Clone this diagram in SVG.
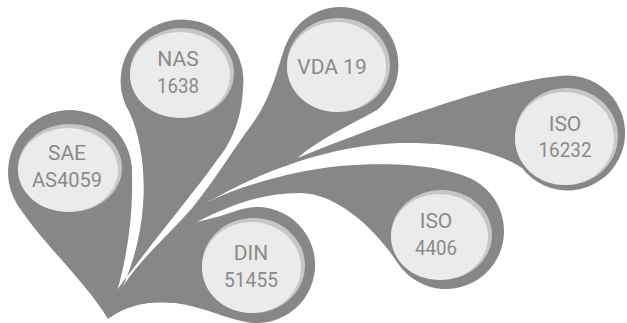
<svg xmlns="http://www.w3.org/2000/svg" width="627" height="323" viewBox="0 0 627 323">
<style>
.g{fill:#878787}
.c{fill:#c6c6c6}
.l{fill:#ebebeb}
.t{font-family:Roboto,"Liberation Sans",sans-serif;font-size:21px;fill:#8a8a8a;text-anchor:middle}
</style>
<rect width="627" height="323" fill="#ffffff"/>
<g id="connectors">
<path id="hub" class="g" d="M108 319 C120 275 160 245 193 207 L205 199 L210 201 L197 222 L230 285 L175 303 C150 300 125 305 108 319 Z"/>
</g>
<g id="sae">
<path class="g" d="M132 174 C133 215 128 265 108 319 C88 285 45 245 21 210 A62 62 0 1 1 132 174 Z"/>
<ellipse class="c" cx="70" cy="168" rx="52" ry="44"/>
<ellipse class="l" cx="68" cy="170" rx="50" ry="42"/>
<text class="t" x="67" y="160">SAE</text>
<text class="t" x="67" y="187" textLength="70" lengthAdjust="spacingAndGlyphs">AS4059</text>
</g>
<g id="nas">
<path class="g" d="M126 106 A61.4 61.4 0 1 1 243 88 C242 120 230 145 217 160 C200 185 150 245 117 290 C112 298 109 310 108 319 C125 285 140 250 143 205 C146 170 140 130 126 106 Z"/>
<ellipse class="c" cx="182" cy="73" rx="52" ry="45"/>
<ellipse class="l" cx="180" cy="75" rx="50" ry="43"/>
<text class="t" x="178" y="66">NAS</text>
<text class="t" x="178" y="93" textLength="42" lengthAdjust="spacingAndGlyphs">1638</text>
</g>
<g id="vda">
<path class="g" d="M287.4 41.5 A58 58 0 1 1 377 110 C350 125 318 140 297.5 157.9 C265 168.5 235 182.5 210 197 L200 210 L193 207 C215 180 237 144 250 127 C275 95 280 55 287.4 41.5 Z"/>
<ellipse class="c" cx="338.5" cy="65" rx="51.5" ry="47"/>
<ellipse class="l" cx="336.5" cy="67" rx="49.5" ry="45"/>
<text class="t" x="332" y="74">VDA 19</text>
</g>
<g id="iso16232">
<path class="g" d="M568 75.5 C520 77 430 105 297.5 157.9 L240 170 L205 199 L210 201 C260 172 330 145 400 143 C450 142 495 150 522 168 A57.5 57.5 0 1 0 568 75.5 Z"/>
<ellipse class="c" cx="566.5" cy="136.5" rx="51.5" ry="48.5"/>
<ellipse class="l" cx="564.5" cy="138.5" rx="49.5" ry="46.5"/>
<text class="t" x="565" y="131">ISO</text>
<text class="t" x="565" y="157" textLength="53" lengthAdjust="spacingAndGlyphs">16232</text>
</g>
<g id="iso4406">
<path class="g" d="M475 180.8 C450 167 400 161 340 166 C290 171 238 187 210 201 L198 211 L197 222 C230 205 262 193 300 193 C340 193 380 235 398.5 264.3 A58 58 0 1 0 475 180.8 Z"/>
<ellipse class="c" cx="441.5" cy="235" rx="50.5" ry="45"/>
<ellipse class="l" cx="439.5" cy="237" rx="48.5" ry="43"/>
<text class="t" x="436" y="228">ISO</text>
<text class="t" x="436" y="255" textLength="42" lengthAdjust="spacingAndGlyphs">4406</text>
</g>
<g id="din">
<path class="g" d="M197 222 C210 219 225.9 214.6 237.2 210.5 A58 58 0 1 1 244.9 321.7 C225 318 200 306 175 303 C150 300 125 305 108 319 Z"/>
<ellipse class="c" cx="253.5" cy="265.5" rx="51.5" ry="47.5"/>
<ellipse class="l" cx="251.5" cy="267.5" rx="49.5" ry="45.5"/>
<text class="t" x="251" y="260">DIN</text>
<text class="t" x="251" y="287" textLength="54" lengthAdjust="spacingAndGlyphs">51455</text>
</g>
</svg>
